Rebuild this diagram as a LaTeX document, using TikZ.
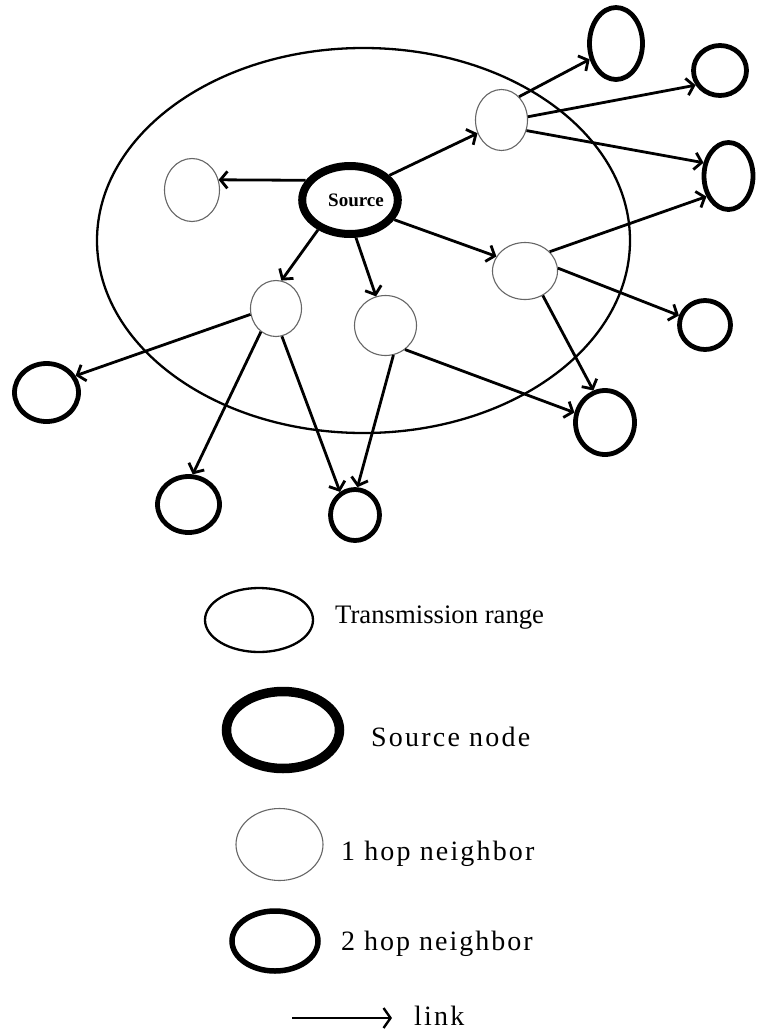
\documentclass[tikz,border=0pt]{standalone}
\usepackage{fontspec}
\setmainfont{Liberation Serif}
\usetikzlibrary{shapes.geometric,arrows.meta}
\begin{document}
\begin{tikzpicture}[x=1pt,y=-1pt,
  rangebox/.style={ellipse,draw=black,line width=2.3pt,inner sep=0pt},
  hopone/.style={ellipse,draw=black!60,line width=1.1pt,fill=white,inner sep=0pt},
  hoptwo/.style={ellipse,draw=black,line width=4.8pt,fill=white,inner sep=0pt},
  srcbox/.style={ellipse,draw=black,line width=8pt,fill=white,inner sep=0pt},
  linkarrow/.style={line width=2.8pt,-{Straight Barb[length=7pt,width=17pt]}},
  legendtext/.style={anchor=base west,inner sep=0pt,font=\fontsize{28}{32}\selectfont}
]
\useasboundingbox (0,0) rectangle (757,1034);

% transmission range
\node[rangebox,minimum width=533pt,minimum height=385pt] (range) at (363.5,240.5) {};

% source
\node[srcbox,minimum width=82pt,minimum height=68pt,font=\fontsize{19}{21}\selectfont\bfseries] (src) at (350,200) {\hspace*{12pt}Source};

% one hop neighbours
\node[hopone,minimum width=55pt,minimum height=63pt] (a) at (192,190) {};
\node[hopone,minimum width=52pt,minimum height=61pt] (b) at (501.5,120) {};
\node[hopone,minimum width=65pt,minimum height=57pt] (c) at (525,271) {};
\node[hopone,minimum width=51pt,minimum height=56pt] (d) at (276,308.5) {};
\node[hopone,minimum width=62pt,minimum height=60pt] (e) at (385.5,325.5) {};

% two hop neighbours
\node[hoptwo,minimum width=53pt,minimum height=72pt] (f1) at (616,43.5) {};
\node[hoptwo,minimum width=53pt,minimum height=50pt] (f2) at (720,70.5) {};
\node[hoptwo,minimum width=49pt,minimum height=67pt] (f3) at (728.5,176) {};
\node[hoptwo,minimum width=51pt,minimum height=49pt] (f4) at (705,325) {};
\node[hoptwo,minimum width=59pt,minimum height=64pt] (f5) at (605,422.5) {};
\node[hoptwo,minimum width=64pt,minimum height=58pt] (f6) at (46.5,392.5) {};
\node[hoptwo,minimum width=62pt,minimum height=56pt] (f7) at (188.5,504.5) {};
\node[hoptwo,minimum width=49pt,minimum height=51pt] (f8) at (355,515) {};

% links
\draw[linkarrow] (src.156) -- (a.21);
\draw[linkarrow] (src.32) -- (b.209);
\draw[linkarrow] (src.336) -- (c.153);
\draw[linkarrow] (src.223) -- (d.79);
\draw[linkarrow] (src.279) -- (e.108);
\draw[linkarrow] (b.53) -- (f1.211);
\draw[linkarrow] (b.7) -- (f2.211);
\draw[linkarrow] (b.337) -- (f3.152);
\draw[linkarrow] (c.38) -- (f3.223);
\draw[linkarrow] (c.5) -- (f4.160);
\draw[linkarrow] (c.306) -- (f5.110);
\draw[linkarrow] (e.309) -- (f5.162);
\draw[linkarrow] (e.285) -- (f8.85);
\draw[linkarrow] (d.193) -- (f6.30);
\draw[linkarrow] (d.237) -- (f7.82);
\draw[linkarrow] (d.282) -- (f8.123);

% legend
\node[rangebox,minimum width=108pt,minimum height=64pt] (lgrange) at (259,620) {};
\node[legendtext,font=\fontsize{26.7}{30}\selectfont] (lgrangetext) at (335,623) {Transmission range};

\node[srcbox,line width=9.5pt,minimum width=113pt,minimum height=77pt] (lgsrc) at (283,730) {};
\node[legendtext,font=\fontsize{28}{32}\selectfont\addfontfeature{LetterSpace=7.9}] (lgsrctext) at (371,746) {Source node};

\node[hopone,minimum width=87pt,minimum height=72pt] (lgone) at (279.5,844.5) {};
\node[legendtext,font=\fontsize{28}{32}\selectfont\addfontfeature{LetterSpace=7.7}] (lgonetext) at (341,860) {1 hop neighbor};

\node[hoptwo,line width=5.5pt,minimum width=86pt,minimum height=60pt] (lgtwo) at (275,941) {};
\node[legendtext,font=\fontsize{28}{32}\selectfont\addfontfeature{LetterSpace=7.1}] (lgtwotext) at (341,950) {2 hop neighbor};

\coordinate (lgl1) at (292,1018);
\coordinate (lgl2) at (392,1018);
\draw[line width=2.4pt,-{Straight Barb[length=7pt,width=20pt]}] (lgl1) -- (lgl2);
\node[legendtext,font=\fontsize{28}{32}\selectfont\addfontfeature{LetterSpace=7.9}] (lglinktext) at (414,1025) {link};
\end{tikzpicture}
\end{document}
